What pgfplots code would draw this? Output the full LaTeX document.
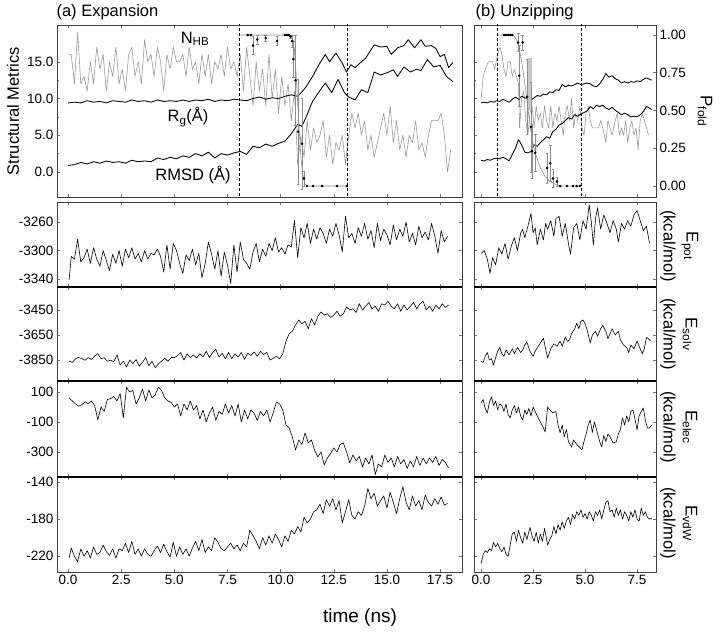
\documentclass[border=0pt]{standalone}
\usepackage{fontspec}
\setmainfont{Liberation Sans}
\usepackage{pgfplots}
\pgfplotsset{compat=1.18}

\pgfplotsset{
  panel/.style={
    scale only axis, anchor=north west,
    axis line style={black!75, line width=0.7pt},
    tick style={black!55, line width=0.5pt},
    major tick length=3pt, minor tick length=1.8pt,
    tick align=inside,
    ticklabel style={font=\fontsize{13.5}{15}\selectfont},
    /pgf/number format/assume math mode=true,
    /pgf/number format/1000 sep={},
  },
  leftcol/.style={panel, width=405pt, xmin=-0.52, xmax=18.53, xtick={0,2.5,5,7.5,10,12.5,15,17.5}},
  rightcol/.style={panel, width=182pt, xmin=-0.34, xmax=8.41, xtick={0,2.5,5,7.5}},
  trace/.style={black, line width=0.6pt, mark=none, line join=round},
  strace/.style={black, line width=0.85pt, mark=none, line join=round},
  nhb/.style={black!40, line width=0.6pt, mark=none, line join=round},
  fit/.style={black!45, line width=0.6pt, mark=none},
  pts/.style={only marks, mark=*, mark size=1.1pt, black,
    error bars/.cd, y dir=both, y explicit,
    error bar style={black!45, line width=0.6pt},
    error mark options={rotate=90, mark size=1.4pt, black!45}},
  vline/.style={black, line width=0.8pt, dash pattern=on 3pt off 2pt},
  oneprec/.style={/pgf/number format/fixed, /pgf/number format/fixed zerofill, /pgf/number format/precision=1},
  twoprec/.style={/pgf/number format/fixed, /pgf/number format/fixed zerofill, /pgf/number format/precision=2},
}

\begin{document}
\begin{tikzpicture}
\useasboundingbox (0pt,0pt) rectangle (720pt,-634pt);

% ---------- (a) structural metrics ----------
\begin{axis}[leftcol, at={(57pt,-25pt)}, height=172pt, ymin=-3.4, ymax=20,
  ytick={0,5,10,15}, minor y tick num=1, ytick pos=left,
  yticklabel style={oneprec}, xticklabels={}]
% N_HB
\addplot[nhb] coordinates {(0.0,16)(0.15,16)(0.3,12)(0.45,19)(0.6,12)(0.75,13)(0.9,11)(1.05,15)(1.2,12)(1.35,17)(1.5,14)(1.65,16)(1.8,11)(1.95,15)(2.1,13)(2.25,17)(2.4,12)(2.55,14)(2.7,11)(2.85,16)(3.0,17)(3.15,13)(3.3,15)(3.45,12)(3.6,18)(3.75,15)(3.9,16)(4.05,13)(4.2,17)(4.35,15)(4.5,11)(4.65,16)(4.8,14)(4.95,17)(5.1,15)(5.25,15)(5.4,16)(5.55,13)(5.7,17)(5.85,14)(6.0,15)(6.15,12)(6.3,16)(6.45,13)(6.6,16)(6.75,12)(6.9,15)(7.05,14)(7.2,16)(7.35,13)(7.5,17)(7.65,14)(7.8,15)(7.95,13)(8.1,16)(8.25,11)(8.4,17)(8.55,13)(8.7,9)(8.85,15)(9.0,11)(9.15,14)(9.3,9)(9.45,16)(9.6,10)(9.75,14)(9.9,8)(10.05,13)(10.2,9)(10.35,12)(10.5,7)(10.65,11)(10.8,1)(10.95,5)(11.1,2)(11.25,7)(11.4,3)(11.55,6)(11.7,4)(11.85,5)(12.0,7)(12.15,2)(12.3,5)(12.45,1)(12.6,4)(12.75,3)(12.9,5)(13.05,1)(13.2,5)(13.35,8)(13.5,6)(13.65,8)(13.8,5)(13.95,7)(14.1,3)(14.25,5)(14.4,2)(14.55,4)(14.7,6)(14.85,8)(15.0,5)(15.15,9)(15.3,4)(15.45,7)(15.6,3)(15.75,5)(15.9,2)(16.05,5)(16.2,4)(16.35,7)(16.5,3)(16.65,4)(16.8,2)(16.95,5)(17.1,7)(17.25,7)(17.4,7)(17.55,8)(17.7,5)(17.85,0)(18.0,3)};
% Rg
\addplot[strace] coordinates {(0.0,9.4)(0.3,9.5)(0.6,9.4)(0.9,9.7)(1.2,9.5)(1.5,9.6)(1.8,9.4)(2.1,9.7)(2.4,9.6)(2.7,9.5)(3.0,9.8)(3.3,9.6)(3.6,9.7)(3.9,9.5)(4.2,9.8)(4.5,9.6)(4.8,9.7)(5.1,9.6)(5.4,9.8)(5.7,9.6)(6.0,9.8)(6.3,9.7)(6.6,9.9)(6.9,9.6)(7.2,9.8)(7.5,9.7)(7.8,9.9)(8.1,9.8)(8.4,9.7)(8.7,10.0)(9.0,10.2)(9.3,9.9)(9.6,10.1)(9.9,10.0)(10.2,10.3)(10.5,10.5)(10.8,10.3)(11.0,10.9)(11.2,11.6)(11.5,13.0)(11.8,14.6)(12.1,16.0)(12.3,15.0)(12.6,16.2)(12.9,14.8)(13.1,13.6)(13.3,14.6)(13.5,14.2)(13.8,15.0)(14.0,15.5)(14.4,17.3)(14.7,17.0)(15.0,17.1)(15.2,16.0)(15.5,16.9)(15.8,17.2)(16.0,18.0)(16.3,16.9)(16.6,18.0)(16.8,17.1)(17.1,17.2)(17.3,16.8)(17.5,15.7)(17.7,16.0)(17.9,14.2)(18.1,14.9)};
% RMSD
\addplot[strace] coordinates {(0.0,0.9)(0.3,1.0)(0.6,1.3)(0.9,1.1)(1.2,1.4)(1.5,1.2)(1.8,1.5)(2.1,1.3)(2.4,1.4)(2.7,1.2)(3.0,1.6)(3.3,1.4)(3.6,1.5)(3.9,1.4)(4.2,1.9)(4.5,1.7)(4.8,2.0)(5.1,1.8)(5.4,2.2)(5.7,2.0)(6.0,2.5)(6.3,2.2)(6.6,2.7)(6.9,1.9)(7.2,2.5)(7.5,2.3)(7.8,2.6)(8.1,2.8)(8.4,2.4)(8.7,3.5)(9.0,3.3)(9.3,3.8)(9.6,3.5)(9.9,3.9)(10.2,4.2)(10.5,5.2)(10.8,6.5)(11.0,6.2)(11.2,7.5)(11.5,9.6)(11.8,10.9)(12.1,12.1)(12.4,10.8)(12.7,12.6)(13.0,10.8)(13.2,10.2)(13.5,9.8)(13.8,11.2)(14.1,10.8)(14.4,13.6)(14.7,13.2)(15.0,13.5)(15.3,13.9)(15.5,13.0)(15.8,14.3)(16.1,13.6)(16.4,14.0)(16.6,13.8)(16.9,15.3)(17.2,14.3)(17.5,14.5)(17.8,13.0)(18.1,12.3)};
\end{axis}

\begin{axis}[leftcol, at={(57pt,-25pt)}, height=172pt, ymin=-0.0728, ymax=1.066, hide axis]
\addplot[fit] coordinates {(8.04,1.0)(10.45,1.0)(10.55,0.98)(10.65,0.9)(10.72,0.75)(10.8,0.55)(10.88,0.35)(10.96,0.18)(11.05,0.07)(11.15,0.01)(11.25,0.0)(13.12,0.0)};
\addplot[pts] coordinates {
 (8.45,1.00) +- (0,0) (8.60,1.00) +- (0,0) (8.70,0.93) +- (0,0.06)
 (8.90,0.97) +- (0,0.03) (9.30,0.98) +- (0,0.02) (9.83,0.96) +- (0,0.03)
 (10.20,1.00) +- (0,0) (10.30,1.00) +- (0,0) (10.38,1.00) +- (0,0)
 (10.46,0.99) +- (0,0.01) (10.54,0.96) +- (0,0.04) (10.60,0.84) +- (0,0.12)
 (10.70,0.70) +- (0,0.30) (10.82,0.36) +- (0,0.35) (11.00,0.28) +- (0,0.30)
 (11.10,0.05) +- (0,0.05) (11.24,0.00) +- (0,0) (11.52,0.00) +- (0,0)
 (11.95,0.00) +- (0,0) (12.65,0.00) +- (0,0) (13.12,0.00) +- (0,0)};
\addplot[vline] coordinates {(8.04,-0.2) (8.04,1.2)};
\addplot[vline] coordinates {(13.12,-0.2) (13.12,1.2)};
\end{axis}

% ---------- (b) structural metrics ----------
\begin{axis}[rightcol, at={(474pt,-25pt)}, height=172pt, ymin=-3.4, ymax=20,
  ytick={0,5,10,15}, minor y tick num=1, ytick pos=left,
  yticklabels={}, xticklabels={}]
\addplot[nhb] coordinates {(0.0,10)(0.1,13)(0.2,14)(0.35,15)(0.45,15)(0.55,15)(0.65,14)(0.8,16)(0.9,17)(1.0,16)(1.1,14)(1.2,13)(1.3,15)(1.4,15)(1.5,13)(1.6,14)(1.7,13)(1.8,12)(1.85,6)(1.95,10)(2.05,11)(2.15,7)(2.25,5)(2.35,8)(2.45,9)(2.55,6)(2.65,9)(2.75,7)(2.85,8)(2.95,6)(3.05,9)(3.15,7)(3.25,6)(3.35,9)(3.45,6)(3.55,8)(3.65,7)(3.75,9)(3.85,7)(3.95,5)(4.05,8)(4.15,9)(4.25,7)(4.35,10)(4.45,6)(4.55,8)(4.65,7)(4.75,9)(4.85,6)(4.95,5)(5.05,8)(5.15,9)(5.25,7)(5.35,6)(5.5,6)(5.65,6)(5.75,7)(5.85,6)(6.0,4)(6.1,7)(6.2,6)(6.3,5)(6.45,7)(6.55,8)(6.65,5)(6.75,6)(6.85,5)(6.95,7)(7.05,4)(7.15,6)(7.25,7)(7.35,5)(7.45,6)(7.55,3)(7.65,7)(7.75,8)(7.85,7)(7.95,6)(8.05,5)};
\addplot[strace] coordinates {(0.0,9.4)(0.15,9.5)(0.3,9.4)(0.45,9.6)(0.6,9.5)(0.75,9.7)(0.9,9.6)(1.05,9.9)(1.2,9.7)(1.35,9.5)(1.5,9.9)(1.65,10.2)(1.8,9.9)(1.95,10.3)(2.1,10.1)(2.25,10.0)(2.4,9.8)(2.55,10.1)(2.7,10.4)(2.85,10.3)(3.0,10.6)(3.15,10.5)(3.3,10.9)(3.45,10.8)(3.6,11.2)(3.75,11.1)(3.9,11.9)(4.05,11.6)(4.2,11.8)(4.35,11.7)(4.5,11.9)(4.65,12.1)(4.8,11.9)(4.95,12.0)(5.1,12.1)(5.25,12.0)(5.4,11.7)(5.55,11.6)(5.7,12.0)(5.85,12.6)(6.0,13.4)(6.15,12.9)(6.3,13.1)(6.45,12.7)(6.6,12.5)(6.75,12.1)(6.9,12.3)(7.05,12.1)(7.2,12.3)(7.35,12.2)(7.5,12.4)(7.65,12.3)(7.8,12.6)(7.95,12.8)(8.1,12.6)(8.2,12.5)};
\addplot[strace] coordinates {(0.0,1.6)(0.15,1.5)(0.3,1.7)(0.45,1.6)(0.6,1.8)(0.75,1.9)(0.9,1.8)(1.05,2.0)(1.2,1.8)(1.35,1.5)(1.5,2.4)(1.65,3.2)(1.8,4.4)(1.95,3.7)(2.1,2.7)(2.25,2.6)(2.4,2.8)(2.55,3.7)(2.7,3.5)(2.85,4.0)(3.0,4.4)(3.15,4.8)(3.3,4.6)(3.45,5.5)(3.6,5.8)(3.75,6.4)(3.9,6.6)(4.05,7.0)(4.2,7.4)(4.35,7.2)(4.5,7.8)(4.65,7.6)(4.8,7.9)(4.95,8.1)(5.1,8.3)(5.25,8.9)(5.4,8.6)(5.55,9.1)(5.7,8.9)(5.85,9.1)(6.0,8.7)(6.15,8.5)(6.3,8.8)(6.45,8.4)(6.6,8.1)(6.75,7.8)(6.9,8.0)(7.05,7.8)(7.2,7.5)(7.35,7.6)(7.5,7.5)(7.65,7.8)(7.8,8.2)(7.95,8.9)(8.1,8.7)(8.2,8.5)};
\end{axis}

\begin{axis}[rightcol, at={(474pt,-25pt)}, height=172pt, ymin=-0.0728, ymax=1.066,
  axis x line=none, axis y line*=right, ytick={0,0.25,0.5,0.75,1},
  yticklabel style={twoprec}]
\addplot[draw=none, mark=none, error bars/.cd, y dir=both, y explicit,
  error bar style={black!22, line width=4pt}, error mark=none] coordinates {(2.33,0.675) +- (0,0.175)};
\addplot[fit] coordinates {(0.77,1.0)(1.5,1.0)(1.6,0.99)(1.7,0.97)(1.8,0.93)(1.9,0.86)(2.0,0.78)(2.1,0.68)(2.2,0.58)(2.3,0.46)(2.4,0.36)(2.5,0.28)(2.65,0.2)(2.85,0.12)(3.05,0.07)(3.3,0.03)(3.6,0.01)(3.8,0.0)(4.81,0.0)};
\addplot[pts] coordinates {
 (1.10,1.00) +- (0,0) (1.20,1.00) +- (0,0) (1.30,1.00) +- (0,0)
 (1.40,1.00) +- (0,0) (1.50,1.00) +- (0,0) (1.78,0.95) +- (0,0.06)
 (1.83,0.73) +- (0,0.20) (2.00,0.95) +- (0,0.05) (2.21,0.59) +- (0,0.25)
 (2.40,0.39) +- (0,0.30) (2.45,0.23) +- (0,0.18) (2.60,0.22) +- (0,0.12)
 (3.17,0.12) +- (0,0.10) (3.32,0.15) +- (0,0.12) (3.46,0.05) +- (0,0.06)
 (3.65,0.03) +- (0,0.03) (3.80,0.00) +- (0,0) (4.13,0.00) +- (0,0)
 (4.42,0.00) +- (0,0) (4.60,0.00) +- (0,0) (4.76,0.00) +- (0,0)};
\addplot[vline] coordinates {(0.77,-0.2) (0.77,1.2)};
\addplot[vline] coordinates {(4.81,-0.2) (4.81,1.2)};
\end{axis}

% ---------- E_pot ----------
\begin{axis}[leftcol, at={(57pt,-202pt)}, height=85pt, ymin=-3351, ymax=-3232,
  ytick={-3340,-3300,-3260}, xticklabels={}]
\addplot[trace] coordinates {(0.05,-3341)(0.15,-3308)(0.3,-3312)(0.45,-3284)(0.6,-3316)(0.75,-3310)(0.9,-3298)(1.05,-3318)(1.2,-3296)(1.35,-3312)(1.5,-3322)(1.65,-3300)(1.8,-3314)(1.95,-3328)(2.1,-3305)(2.25,-3318)(2.4,-3300)(2.55,-3322)(2.7,-3298)(2.85,-3310)(3.0,-3296)(3.15,-3312)(3.3,-3304)(3.45,-3316)(3.6,-3300)(3.75,-3312)(3.9,-3304)(4.05,-3306)(4.2,-3298)(4.35,-3308)(4.5,-3330)(4.65,-3292)(4.8,-3326)(4.95,-3290)(5.1,-3300)(5.25,-3318)(5.4,-3332)(5.55,-3306)(5.7,-3314)(5.85,-3298)(6.0,-3320)(6.15,-3304)(6.3,-3338)(6.45,-3318)(6.6,-3288)(6.75,-3305)(6.9,-3326)(7.05,-3300)(7.2,-3336)(7.35,-3302)(7.5,-3320)(7.65,-3346)(7.8,-3292)(7.95,-3330)(8.1,-3288)(8.25,-3312)(8.4,-3318)(8.55,-3326)(8.7,-3302)(8.85,-3290)(9.0,-3316)(9.15,-3298)(9.3,-3308)(9.45,-3290)(9.6,-3300)(9.75,-3282)(9.9,-3302)(10.05,-3296)(10.2,-3305)(10.35,-3292)(10.5,-3295)(10.65,-3258)(10.8,-3310)(10.95,-3268)(11.1,-3282)(11.25,-3262)(11.4,-3290)(11.55,-3270)(11.7,-3284)(11.85,-3268)(12.0,-3276)(12.15,-3290)(12.3,-3270)(12.45,-3280)(12.6,-3262)(12.75,-3278)(12.9,-3302)(13.05,-3252)(13.2,-3282)(13.35,-3276)(13.5,-3290)(13.65,-3268)(13.8,-3280)(13.95,-3262)(14.1,-3284)(14.25,-3272)(14.4,-3296)(14.55,-3262)(14.7,-3286)(14.85,-3270)(15.0,-3278)(15.15,-3292)(15.3,-3264)(15.45,-3285)(15.6,-3270)(15.75,-3280)(15.9,-3260)(16.05,-3288)(16.2,-3276)(16.35,-3292)(16.5,-3266)(16.65,-3282)(16.8,-3274)(16.95,-3285)(17.1,-3262)(17.25,-3280)(17.4,-3304)(17.55,-3272)(17.7,-3288)(17.85,-3280)};
\end{axis}
\begin{axis}[rightcol, at={(474pt,-202pt)}, height=85pt, ymin=-3351, ymax=-3232,
  ytick={-3340,-3300,-3260}, yticklabels={}, xticklabels={}]
\addplot[trace] coordinates {(0.0,-3304)(0.15,-3300)(0.3,-3312)(0.43,-3332)(0.55,-3310)(0.7,-3320)(0.85,-3296)(1.0,-3305)(1.15,-3290)(1.3,-3312)(1.45,-3294)(1.6,-3282)(1.75,-3300)(1.9,-3276)(2.0,-3270)(2.1,-3282)(2.25,-3266)(2.4,-3248)(2.5,-3275)(2.6,-3268)(2.7,-3292)(2.85,-3270)(3.0,-3285)(3.1,-3262)(3.2,-3270)(3.35,-3258)(3.5,-3280)(3.6,-3255)(3.75,-3252)(3.9,-3280)(4.05,-3262)(4.2,-3290)(4.3,-3305)(4.45,-3268)(4.6,-3262)(4.75,-3285)(4.9,-3258)(5.05,-3270)(5.2,-3236)(5.3,-3260)(5.4,-3292)(5.5,-3256)(5.6,-3240)(5.75,-3270)(5.9,-3250)(6.05,-3262)(6.2,-3275)(6.35,-3258)(6.5,-3270)(6.6,-3288)(6.75,-3262)(6.9,-3270)(7.05,-3258)(7.2,-3266)(7.35,-3250)(7.5,-3244)(7.65,-3258)(7.8,-3272)(7.95,-3266)(8.1,-3290)};
\end{axis}

% ---------- E_solv ----------
\begin{axis}[leftcol, at={(57pt,-287pt)}, height=94pt, ymin=-4018, ymax=-3266,
  ytick={-3850,-3650,-3450}, xticklabels={}]
\addplot[trace] coordinates {(0.05,-3858)(0.2,-3870)(0.35,-3840)(0.5,-3830)(0.65,-3838)(0.8,-3852)(0.95,-3830)(1.1,-3846)(1.25,-3818)(1.4,-3800)(1.55,-3840)(1.7,-3832)(1.85,-3860)(2.0,-3852)(2.15,-3864)(2.3,-3810)(2.45,-3890)(2.6,-3860)(2.75,-3906)(2.9,-3850)(3.05,-3880)(3.2,-3846)(3.35,-3900)(3.5,-3870)(3.65,-3830)(3.8,-3896)(3.95,-3860)(4.1,-3912)(4.25,-3880)(4.4,-3860)(4.55,-3836)(4.7,-3860)(4.85,-3830)(5.0,-3830)(5.15,-3816)(5.3,-3790)(5.45,-3850)(5.6,-3800)(5.75,-3830)(5.9,-3810)(6.05,-3834)(6.2,-3800)(6.35,-3826)(6.5,-3780)(6.65,-3830)(6.8,-3790)(6.95,-3764)(7.1,-3826)(7.25,-3796)(7.4,-3840)(7.55,-3790)(7.7,-3840)(7.85,-3800)(8.0,-3826)(8.15,-3790)(8.3,-3844)(8.45,-3796)(8.6,-3814)(8.75,-3786)(8.9,-3820)(9.05,-3780)(9.2,-3806)(9.35,-3790)(9.5,-3850)(9.65,-3836)(9.8,-3820)(9.95,-3840)(10.1,-3800)(10.25,-3700)(10.4,-3640)(10.55,-3620)(10.7,-3570)(10.85,-3530)(11.0,-3560)(11.15,-3540)(11.3,-3600)(11.45,-3520)(11.6,-3570)(11.75,-3500)(11.9,-3466)(12.05,-3490)(12.2,-3480)(12.35,-3510)(12.5,-3490)(12.65,-3460)(12.8,-3500)(12.95,-3480)(13.1,-3426)(13.25,-3450)(13.4,-3440)(13.55,-3470)(13.7,-3400)(13.85,-3450)(14.0,-3420)(14.15,-3390)(14.3,-3440)(14.45,-3420)(14.6,-3460)(14.75,-3400)(14.9,-3410)(15.05,-3380)(15.2,-3420)(15.35,-3440)(15.5,-3400)(15.65,-3460)(15.8,-3410)(15.95,-3450)(16.1,-3420)(16.25,-3390)(16.4,-3440)(16.55,-3400)(16.7,-3380)(16.85,-3450)(17.0,-3420)(17.15,-3460)(17.3,-3410)(17.45,-3440)(17.6,-3400)(17.75,-3430)(17.9,-3410)};
\end{axis}
\begin{axis}[rightcol, at={(474pt,-287pt)}, height=94pt, ymin=-4018, ymax=-3266,
  ytick={-3850,-3650,-3450}, yticklabels={}, xticklabels={}]
\addplot[trace] coordinates {(0.0,-3860)(0.1,-3870)(0.2,-3820)(0.3,-3790)(0.4,-3850)(0.5,-3840)(0.6,-3890)(0.7,-3830)(0.8,-3780)(0.9,-3750)(1.0,-3800)(1.1,-3820)(1.2,-3770)(1.35,-3810)(1.5,-3760)(1.6,-3800)(1.75,-3750)(1.9,-3790)(2.0,-3770)(2.1,-3730)(2.2,-3706)(2.35,-3780)(2.5,-3820)(2.6,-3780)(2.75,-3740)(2.9,-3700)(3.0,-3676)(3.1,-3760)(3.2,-3834)(3.35,-3760)(3.5,-3720)(3.65,-3740)(3.8,-3700)(3.9,-3740)(4.05,-3666)(4.15,-3700)(4.25,-3690)(4.35,-3640)(4.5,-3600)(4.6,-3556)(4.7,-3600)(4.8,-3540)(4.9,-3530)(5.0,-3560)(5.1,-3610)(5.25,-3714)(5.35,-3650)(5.5,-3620)(5.6,-3660)(5.75,-3600)(5.85,-3572)(6.0,-3620)(6.1,-3680)(6.2,-3640)(6.3,-3600)(6.45,-3650)(6.6,-3620)(6.7,-3690)(6.85,-3730)(7.0,-3750)(7.1,-3790)(7.2,-3730)(7.35,-3760)(7.5,-3700)(7.6,-3740)(7.75,-3800)(7.85,-3760)(7.95,-3670)(8.05,-3680)(8.15,-3700)};
\end{axis}

% ---------- E_elec ----------
\begin{axis}[leftcol, at={(57pt,-381pt)}, height=96pt, ymin=-467, ymax=173,
  ytick={-300,-100,100}, xticklabels={}]
\addplot[trace] coordinates {(0.05,60)(0.2,40)(0.35,20)(0.5,5)(0.65,15)(0.8,35)(0.95,20)(1.1,40)(1.25,10)(1.4,-87)(1.55,0)(1.7,-30)(1.85,50)(2.0,55)(2.15,70)(2.3,40)(2.45,90)(2.6,-73)(2.75,130)(2.9,100)(3.05,110)(3.2,20)(3.35,60)(3.5,120)(3.65,40)(3.8,113)(3.95,60)(4.1,80)(4.25,133)(4.4,110)(4.55,60)(4.7,40)(4.85,30)(5.0,0)(5.15,20)(5.3,-60)(5.45,20)(5.6,-20)(5.75,40)(5.9,-20)(6.05,10)(6.2,-80)(6.35,-20)(6.5,-100)(6.65,-40)(6.8,0)(6.95,-90)(7.1,-30)(7.25,-50)(7.4,20)(7.55,-40)(7.7,10)(7.85,-60)(8.0,20)(8.15,-100)(8.3,-20)(8.45,-80)(8.6,-20)(8.75,-40)(8.9,-90)(9.05,-30)(9.2,-60)(9.35,-20)(9.5,-100)(9.65,-40)(9.8,33)(9.95,20)(10.1,-20)(10.25,-120)(10.4,-140)(10.55,-200)(10.7,-287)(10.85,-220)(11.0,-250)(11.15,-173)(11.3,-240)(11.45,-220)(11.6,-290)(11.75,-333)(11.9,-300)(12.05,-387)(12.2,-340)(12.35,-310)(12.5,-273)(12.65,-300)(12.8,-250)(12.95,-240)(13.1,-300)(13.25,-373)(13.4,-320)(13.55,-360)(13.7,-330)(13.85,-400)(14.0,-340)(14.15,-380)(14.3,-320)(14.45,-450)(14.6,-380)(14.75,-400)(14.9,-320)(15.05,-370)(15.2,-340)(15.35,-400)(15.5,-330)(15.65,-380)(15.8,-350)(15.95,-410)(16.1,-360)(16.25,-400)(16.4,-330)(16.55,-390)(16.7,-340)(16.85,-380)(17.0,-340)(17.15,-370)(17.3,-330)(17.45,-390)(17.6,-350)(17.75,-370)(17.9,-407)};
\end{axis}
\begin{axis}[rightcol, at={(474pt,-381pt)}, height=96pt, ymin=-467, ymax=173,
  ytick={-300,-100,100}, yticklabels={}, xticklabels={}]
\addplot[trace] coordinates {(0.0,27)(0.1,50)(0.2,-10)(0.3,-40)(0.4,30)(0.5,67)(0.6,10)(0.7,40)(0.8,-20)(0.9,20)(1.0,10)(1.1,-30)(1.2,20)(1.3,-50)(1.4,-73)(1.5,-20)(1.6,10)(1.7,-40)(1.8,0)(1.9,-60)(2.0,-87)(2.1,-20)(2.2,-50)(2.3,-10)(2.4,-60)(2.5,0)(2.6,-30)(2.7,-60)(2.85,-100)(3.0,-140)(3.08,-167)(3.2,0)(3.3,-20)(3.45,-40)(3.6,-30)(3.7,-120)(3.8,-173)(3.9,-120)(4.0,-200)(4.1,-150)(4.2,-230)(4.35,-267)(4.45,-220)(4.6,-250)(4.75,-270)(4.85,-287)(4.95,-230)(5.05,-180)(5.15,-120)(5.25,-87)(5.35,-170)(5.45,-100)(5.55,-150)(5.7,-230)(5.8,-267)(5.9,-190)(6.0,-230)(6.1,-180)(6.2,-200)(6.35,-240)(6.5,-233)(6.6,-180)(6.7,-150)(6.8,-73)(6.9,-120)(7.0,-60)(7.1,-100)(7.2,-30)(7.3,-20)(7.4,-80)(7.5,-153)(7.6,-60)(7.7,-30)(7.8,-7)(7.9,-90)(8.0,-140)(8.1,-140)(8.2,-120)};
\end{axis}

% ---------- E_vdW ----------
\begin{axis}[leftcol, at={(57pt,-477pt)}, height=95pt, ymin=-237, ymax=-134.6,
  ytick={-220,-180,-140}, xticklabel style={oneprec}]
\addplot[trace] coordinates {(0.05,-222)(0.15,-211)(0.3,-220)(0.45,-226)(0.6,-212)(0.75,-220)(0.9,-214)(1.05,-222)(1.2,-210)(1.35,-218)(1.5,-216)(1.65,-208)(1.8,-215)(1.95,-219)(2.1,-212)(2.25,-222)(2.4,-212)(2.55,-214)(2.7,-206)(2.85,-216)(3.0,-204)(3.15,-218)(3.3,-212)(3.45,-220)(3.6,-212)(3.75,-218)(3.9,-220)(4.05,-214)(4.2,-209)(4.35,-216)(4.5,-207)(4.65,-215)(4.8,-221)(4.95,-205)(5.1,-220)(5.25,-210)(5.4,-218)(5.55,-212)(5.7,-220)(5.85,-211)(6.0,-204)(6.15,-214)(6.3,-202)(6.45,-216)(6.6,-210)(6.75,-214)(6.9,-200)(7.05,-205)(7.2,-212)(7.35,-214)(7.5,-210)(7.65,-206)(7.8,-212)(7.95,-208)(8.1,-214)(8.25,-206)(8.4,-210)(8.55,-192)(8.7,-198)(8.85,-204)(9.0,-212)(9.15,-200)(9.3,-208)(9.45,-198)(9.6,-206)(9.75,-196)(9.9,-202)(10.05,-210)(10.2,-198)(10.35,-204)(10.5,-192)(10.65,-196)(10.8,-188)(10.95,-194)(11.1,-178)(11.25,-184)(11.4,-180)(11.55,-172)(11.7,-170)(11.85,-164)(12.0,-174)(12.15,-159)(12.3,-166)(12.45,-158)(12.6,-170)(12.75,-160)(12.9,-184)(13.05,-172)(13.2,-159)(13.35,-176)(13.5,-180)(13.65,-172)(13.8,-176)(13.95,-166)(14.1,-147)(14.25,-158)(14.4,-152)(14.55,-166)(14.7,-160)(14.85,-155)(15.0,-168)(15.15,-151)(15.3,-162)(15.45,-174)(15.6,-158)(15.75,-145)(15.9,-162)(16.05,-170)(16.2,-155)(16.35,-166)(16.5,-160)(16.65,-170)(16.8,-154)(16.95,-162)(17.1,-166)(17.25,-158)(17.4,-164)(17.55,-156)(17.7,-165)(17.85,-163)};
\end{axis}
\begin{axis}[rightcol, at={(474pt,-477pt)}, height=95pt, ymin=-237, ymax=-134.6,
  ytick={-220,-180,-140}, yticklabels={}, xticklabel style={oneprec}]
\addplot[trace] coordinates {(0.0,-228)(0.1,-218)(0.2,-214)(0.3,-216)(0.4,-212)(0.5,-214)(0.6,-205)(0.7,-210)(0.8,-206)(0.9,-212)(1.0,-215)(1.1,-210)(1.2,-218)(1.3,-220)(1.4,-208)(1.5,-196)(1.6,-194)(1.7,-204)(1.8,-192)(1.9,-200)(2.0,-206)(2.1,-194)(2.2,-202)(2.35,-189)(2.45,-198)(2.55,-204)(2.65,-194)(2.75,-206)(2.85,-196)(2.95,-204)(3.05,-190)(3.2,-208)(3.3,-202)(3.4,-198)(3.5,-188)(3.6,-196)(3.7,-186)(3.8,-192)(3.9,-183)(4.0,-190)(4.1,-182)(4.2,-178)(4.3,-186)(4.4,-175)(4.5,-180)(4.6,-172)(4.7,-176)(4.8,-170)(4.9,-178)(5.0,-174)(5.1,-180)(5.2,-172)(5.3,-176)(5.4,-182)(5.5,-172)(5.6,-176)(5.7,-170)(5.8,-180)(5.9,-170)(6.0,-162)(6.1,-160)(6.2,-172)(6.3,-170)(6.4,-178)(6.5,-168)(6.6,-176)(6.7,-170)(6.8,-180)(6.9,-172)(7.0,-176)(7.1,-182)(7.2,-172)(7.3,-178)(7.4,-170)(7.5,-180)(7.6,-182)(7.7,-168)(7.8,-176)(7.9,-172)(8.0,-178)(8.1,-180)(8.2,-179)};
\end{axis}

% panel separators
\foreach \yy in {287,381,477} {
  \draw[black, line width=1.5pt] (57pt,-\yy pt) -- (462pt,-\yy pt);
  \draw[black, line width=1.5pt] (474pt,-\yy pt) -- (656pt,-\yy pt);
}

% labels
\node[anchor=west, font=\fontsize{16.5}{18}\selectfont] at (53pt,-12pt) {(a) Expansion};
\node[anchor=west, font=\fontsize{16.5}{18}\selectfont] at (472pt,-12pt) {(b) Unzipping};
\node[rotate=90, font=\fontsize{16.5}{18}\selectfont] at (13pt,-111pt) {Structural Metrics};
\node[font=\fontsize{19}{21}\selectfont] at (360pt,-618pt) {time (ns)};
\node[font=\fontsize{16.5}{18}\selectfont] at (195pt,-39pt) {N\textsubscript{HB}};
\node[font=\fontsize{16.5}{18}\selectfont] at (188pt,-117pt) {R\textsubscript{g}(Å)};
\node[font=\fontsize{16.5}{18}\selectfont] at (193pt,-175pt) {RMSD (Å)};
\node[rotate=-90, font=\fontsize{17}{19}\selectfont] at (705pt,-111pt) {P\textsubscript{fold}};
\foreach \yc/\lab in {246/pot, 334/solv, 427/elec, 523/vdW} {
  \node[rotate=-90, font=\fontsize{17}{19}\selectfont] at (690pt,-\yc pt) {E\textsubscript{\lab}};
  \node[rotate=-90, font=\fontsize{16.5}{18}\selectfont] at (668pt,-\yc pt) {(kcal/mol)};
}
\end{tikzpicture}
\end{document}
